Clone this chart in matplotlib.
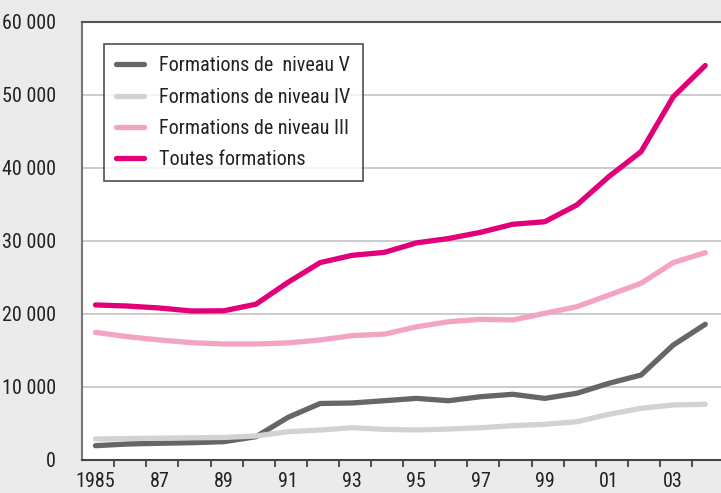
import matplotlib
matplotlib.use("Agg")
import matplotlib.pyplot as plt
from matplotlib.ticker import FixedLocator

plt.rcParams['font.family'] = ['Roboto Condensed', 'DejaVu Sans']

years = list(range(1985, 2005))
year_labels = ["1985", "87", "89", "91", "93", "95", "97", "99", "01", "03"]

niveau_v = [1920, 2150, 2250, 2330, 2470, 3150, 5800, 7700, 7770, 8080,
            8400, 8080, 8630, 8960, 8400, 9100, 10470, 11600, 15700, 18550]
niveau_iv = [2830, 2900, 2950, 3000, 3050, 3250, 3830, 4070, 4380, 4160,
             4070, 4200, 4380, 4660, 4850, 5200, 6220, 7040, 7500, 7590]
niveau_iii = [17450, 16850, 16400, 16030, 15850, 15850, 16000, 16400, 17000, 17200,
              18200, 18900, 19230, 19140, 20050, 20960, 22560, 24170, 27000, 28360]
toutes = [21200, 21050, 20780, 20370, 20400, 21300, 24300, 27000, 28000, 28400,
          29700, 30300, 31150, 32250, 32600, 34900, 38800, 42200, 49700, 54000]

series = [
    ("Formations de  niveau V", niveau_v, "#666666"),
    ("Formations de niveau IV", niveau_iv, "#d2d2d2"),
    ("Formations de niveau III", niveau_iii, "#f3a3c4"),
    ("Toutes formations", toutes, "#e2007a"),
]

FS = 14.5

fig = plt.figure(figsize=(7.21, 4.93), dpi=100)
fig.patch.set_facecolor("#ebebeb")
ax = fig.add_axes([82.2 / 721, 1 - 459.7 / 493, 1 - 82.2 / 721, (459.7 - 21.7) / 493])
ax.set_facecolor("white")

x = list(range(len(years)))
for label, vals, col in series:
    ax.plot(x, vals, color=col, lw=3.8, solid_capstyle="round",
            solid_joinstyle="round", label=label, zorder=3)

ax.set_ylim(0, 60000)
ax.set_xlim(-0.414, 19.49)
ax.set_yticks(range(0, 60001, 10000))
ax.set_yticklabels(["0", "10 000", "20 000", "30 000", "40 000", "50 000", "60 000"])
ax.yaxis.grid(True, color="#c4c4c4", lw=1.2, zorder=0)
ax.tick_params(axis="y", length=0, pad=19, labelsize=FS, labelcolor="#222222")

ax.xaxis.set_major_locator(FixedLocator([i + 0.586 for i in range(19)]))
ax.xaxis.set_major_formatter(plt.NullFormatter())
ax.xaxis.set_minor_locator(FixedLocator(list(range(0, 20, 2))))
ax.set_xticklabels(year_labels, minor=True)
ax.tick_params(axis="x", which="major", length=5, width=1.2, color="#333333", direction="out")
ax.tick_params(axis="x", which="minor", length=0, pad=9, labelsize=FS, labelcolor="#222222")

ax.spines["right"].set_visible(False)
ax.spines["top"].set_color("#555555")
ax.spines["top"].set_linewidth(1.5)
ax.spines["left"].set_color("#777777")
ax.spines["left"].set_linewidth(1.5)
ax.spines["bottom"].set_color("#444444")
ax.spines["bottom"].set_linewidth(1.5)

leg = ax.legend(loc="upper left", bbox_to_anchor=(104 / 721, 1 - 44 / 493),
                bbox_transform=fig.transFigure, fontsize=FS, frameon=True,
                fancybox=False, edgecolor="#222222", handlelength=1.35,
                handletextpad=0.75, labelspacing=0.6, borderpad=0.62,
                borderaxespad=0)
leg.get_frame().set_linewidth(1.2)
for t in leg.get_texts():
    t.set_color("#222222")

fig.savefig("out.png", dpi=100, facecolor=fig.get_facecolor())
